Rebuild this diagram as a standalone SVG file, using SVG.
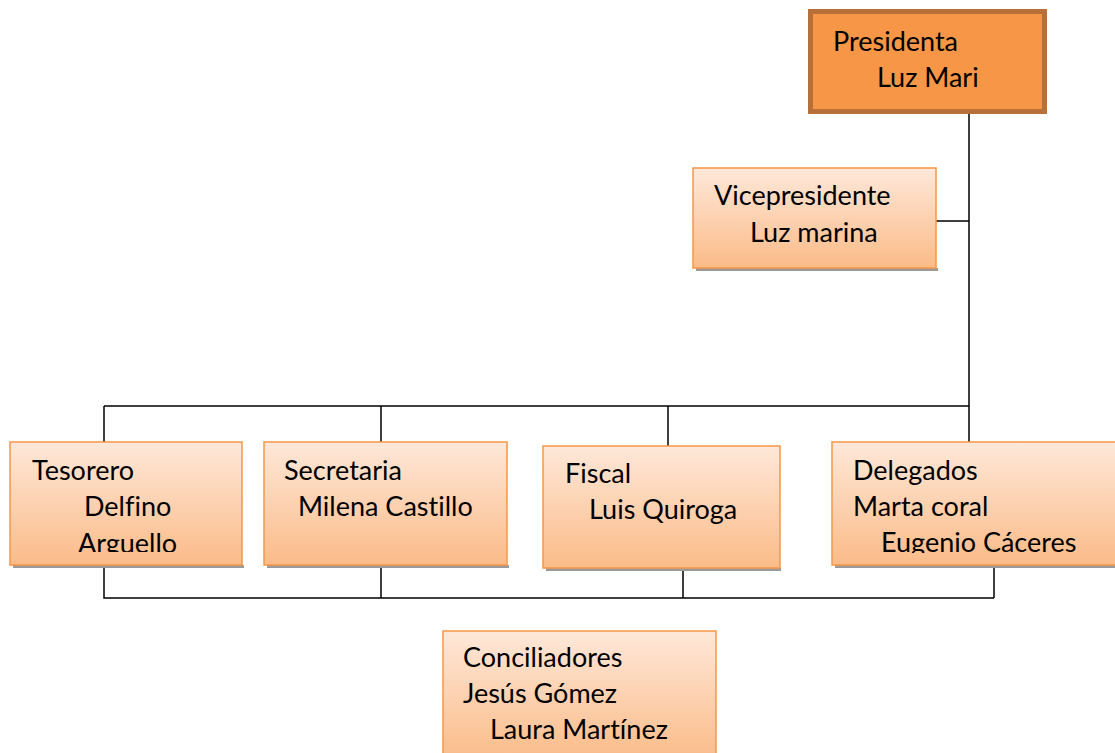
<svg xmlns="http://www.w3.org/2000/svg" width="1115" height="753" viewBox="0 0 1115 753">
<style>
.t{font-family:Lato,"Open Sans",sans-serif;font-size:27px;fill:#000;font-variant-ligatures:none}
.box{fill:url(#g);stroke:#F79646;stroke-width:1.5}
.sh{fill:#9a9a9a}
.ln{stroke:#000;stroke-width:1.5;fill:none}
</style>
<defs>
<linearGradient id="g" x1="0" y1="0" x2="0" y2="1">
<stop offset="0" stop-color="#FEE8D9"/>
<stop offset="1" stop-color="#FBBB88"/>
</linearGradient>
<clipPath id="c1"><rect x="10" y="442" width="232" height="110"/></clipPath>
<clipPath id="c4"><rect x="832" y="442" width="283" height="111"/></clipPath>
</defs>
<g id="connectors">
<path class="ln" d="M969 113V406M936 221H969M104 406H969M104 406V442M381 406V442M668 406V446M969 406V442"/>
<path class="ln" d="M104 565V598H994M381 565V598M683 568V598M994 565V598"/>
</g>
<g id="presidenta">
<rect x="810.5" y="11.5" width="234" height="100" fill="#F79646" stroke="#B8703A" stroke-width="5"/>
<text class="t" x="833" y="51">Presidenta</text>
<text class="t" x="877" y="87">Luz Mari</text>
</g>
<g id="vicepresidente">
<rect class="sh" x="696" y="268" width="242" height="3"/>
<rect class="box" x="693" y="168" width="243" height="100"/>
<text class="t" x="714" y="205">Vicepresidente</text>
<text class="t" x="750" y="242">Luz marina</text>
</g>
<g id="tesorero">
<rect class="sh" x="13" y="565" width="231" height="3"/>
<rect class="box" x="10" y="442" width="232" height="123"/>
<g clip-path="url(#c1)">
<text class="t" x="32" y="480">Tesorero</text>
<text class="t" x="84" y="516">Delfino</text>
<text class="t" x="78" y="553">Arguello</text>
</g>
</g>
<g id="secretaria">
<rect class="sh" x="267" y="565" width="242" height="3"/>
<rect class="box" x="264" y="442" width="243" height="123"/>
<text class="t" x="284" y="480">Secretaria</text>
<text class="t" x="298" y="516">Milena Castillo</text>
</g>
<g id="fiscal">
<rect class="sh" x="546" y="568" width="235" height="3"/>
<rect class="box" x="543" y="446" width="237" height="122"/>
<text class="t" x="565" y="483">Fiscal</text>
<text class="t" x="589" y="519">Luis Quiroga</text>
</g>
<g id="delegados">
<rect class="sh" x="835" y="565" width="282" height="3"/>
<rect class="box" x="832" y="442" width="290" height="123"/>
<g clip-path="url(#c4)">
<text class="t" x="853" y="480">Delegados</text>
<text class="t" x="853" y="516">Marta coral</text>
<text class="t" x="881" y="552">Eugenio Cáceres</text>
</g>
</g>
<g id="conciliadores">
<rect class="box" x="443" y="631" width="273" height="130"/>
<text class="t" x="463" y="667">Conciliadores</text>
<text class="t" x="463" y="703">Jesús Gómez</text>
<text class="t" x="490" y="739">Laura Martínez</text>
</g>
</svg>
